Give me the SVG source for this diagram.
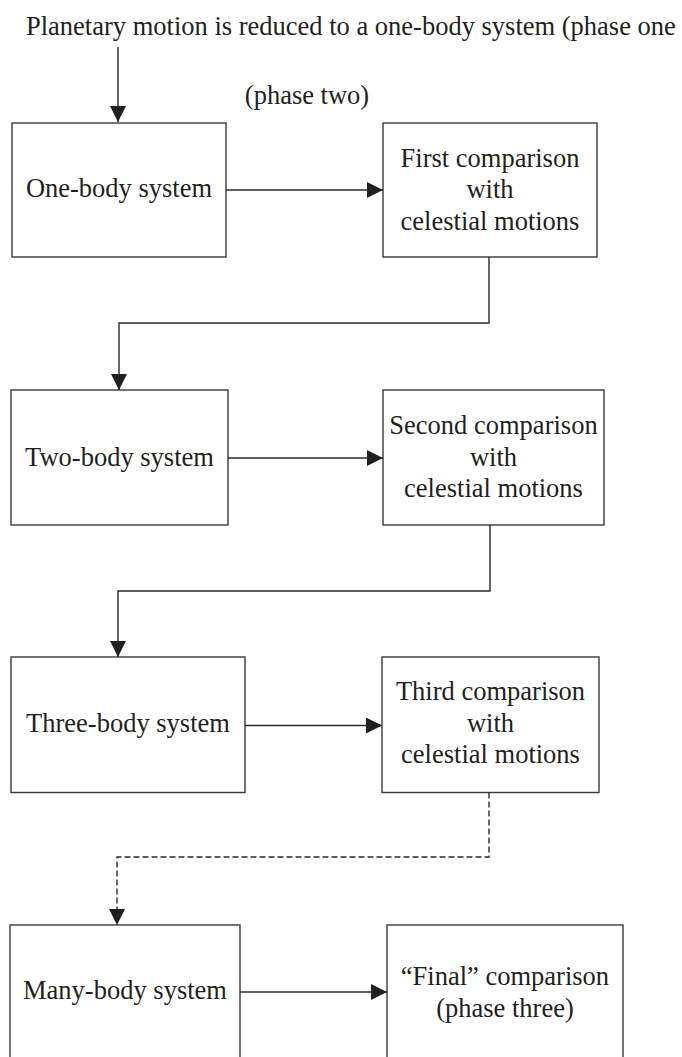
<svg xmlns="http://www.w3.org/2000/svg" width="682" height="1057" viewBox="0 0 682 1057">
  <style>
    .box { fill: #ffffff; stroke: #3a3a3a; stroke-width: 1.4; }
    .lbl { font-family: "Liberation Serif", "Times New Roman", serif; font-size: 26.5px; fill: #231f20; text-anchor: middle; }
    .title { font-family: "Liberation Serif", "Times New Roman", serif; font-size: 26.5px; fill: #231f20; }
    .conn { fill: none; stroke: #2a2a2a; stroke-width: 1.4; }
    .dash { stroke-dasharray: 6 3; }
  </style>
  <defs>
    <marker id="arrow" markerUnits="userSpaceOnUse" markerWidth="17" markerHeight="17" refX="16" refY="8" orient="auto">
      <path d="M0,0 L16,8 L0,16 Z" fill="#231f20"/>
    </marker>
  </defs>
  <rect x="0" y="0" width="682" height="1057" fill="#ffffff"/>

  <g id="title">
    <text class="title" x="26" y="35">Planetary motion is reduced to a one-body system (phase one</text>
  </g>
  <g id="phase-two">
    <text class="lbl" x="307" y="104">(phase two)</text>
  </g>

  <g id="one-body">
    <rect class="box" x="12" y="123" width="214" height="134"/>
    <text class="lbl" x="119" y="197">One-body system</text>
  </g>
  <g id="first-comparison">
    <rect class="box" x="383" y="123" width="214" height="134"/>
    <text class="lbl" x="490" y="166.5">First comparison</text>
    <text class="lbl" x="490" y="198">with</text>
    <text class="lbl" x="490" y="229.5">celestial motions</text>
  </g>

  <g id="two-body">
    <rect class="box" x="11" y="390" width="217" height="135"/>
    <text class="lbl" x="119.5" y="465.5">Two-body system</text>
  </g>
  <g id="second-comparison">
    <rect class="box" x="383" y="390" width="221" height="135"/>
    <text class="lbl" x="493.5" y="434">Second comparison</text>
    <text class="lbl" x="493.5" y="465.5">with</text>
    <text class="lbl" x="493.5" y="497">celestial motions</text>
  </g>

  <g id="three-body">
    <rect class="box" x="11" y="657" width="234" height="135.5"/>
    <text class="lbl" x="128" y="732">Three-body system</text>
  </g>
  <g id="third-comparison">
    <rect class="box" x="382" y="657" width="217" height="135.5"/>
    <text class="lbl" x="490.5" y="700">Third comparison</text>
    <text class="lbl" x="490.5" y="731.5">with</text>
    <text class="lbl" x="490.5" y="763">celestial motions</text>
  </g>

  <g id="many-body">
    <rect class="box" x="10" y="925" width="230" height="136"/>
    <text class="lbl" x="125" y="999">Many-body system</text>
  </g>
  <g id="final-comparison">
    <rect class="box" x="387" y="925" width="236" height="136"/>
    <text class="lbl" x="505" y="984.5">“Final” comparison</text>
    <text class="lbl" x="505" y="1016.5">(phase three)</text>
  </g>

  <g id="connectors">
    <path class="conn" d="M118,47 V122" marker-end="url(#arrow)"/>
    <path class="conn" d="M226,190 H383" marker-end="url(#arrow)"/>
    <path class="conn" d="M489,257 V323 H119 V390" marker-end="url(#arrow)"/>
    <path class="conn" d="M228,458 H383" marker-end="url(#arrow)"/>
    <path class="conn" d="M490,525 V591 H118 V657" marker-end="url(#arrow)"/>
    <path class="conn" d="M245,725.5 H382" marker-end="url(#arrow)"/>
    <path class="conn dash" d="M489,792.5 V857 H117 V925" marker-end="url(#arrow)"/>
    <path class="conn" d="M240,992 H387" marker-end="url(#arrow)"/>
  </g>
</svg>
